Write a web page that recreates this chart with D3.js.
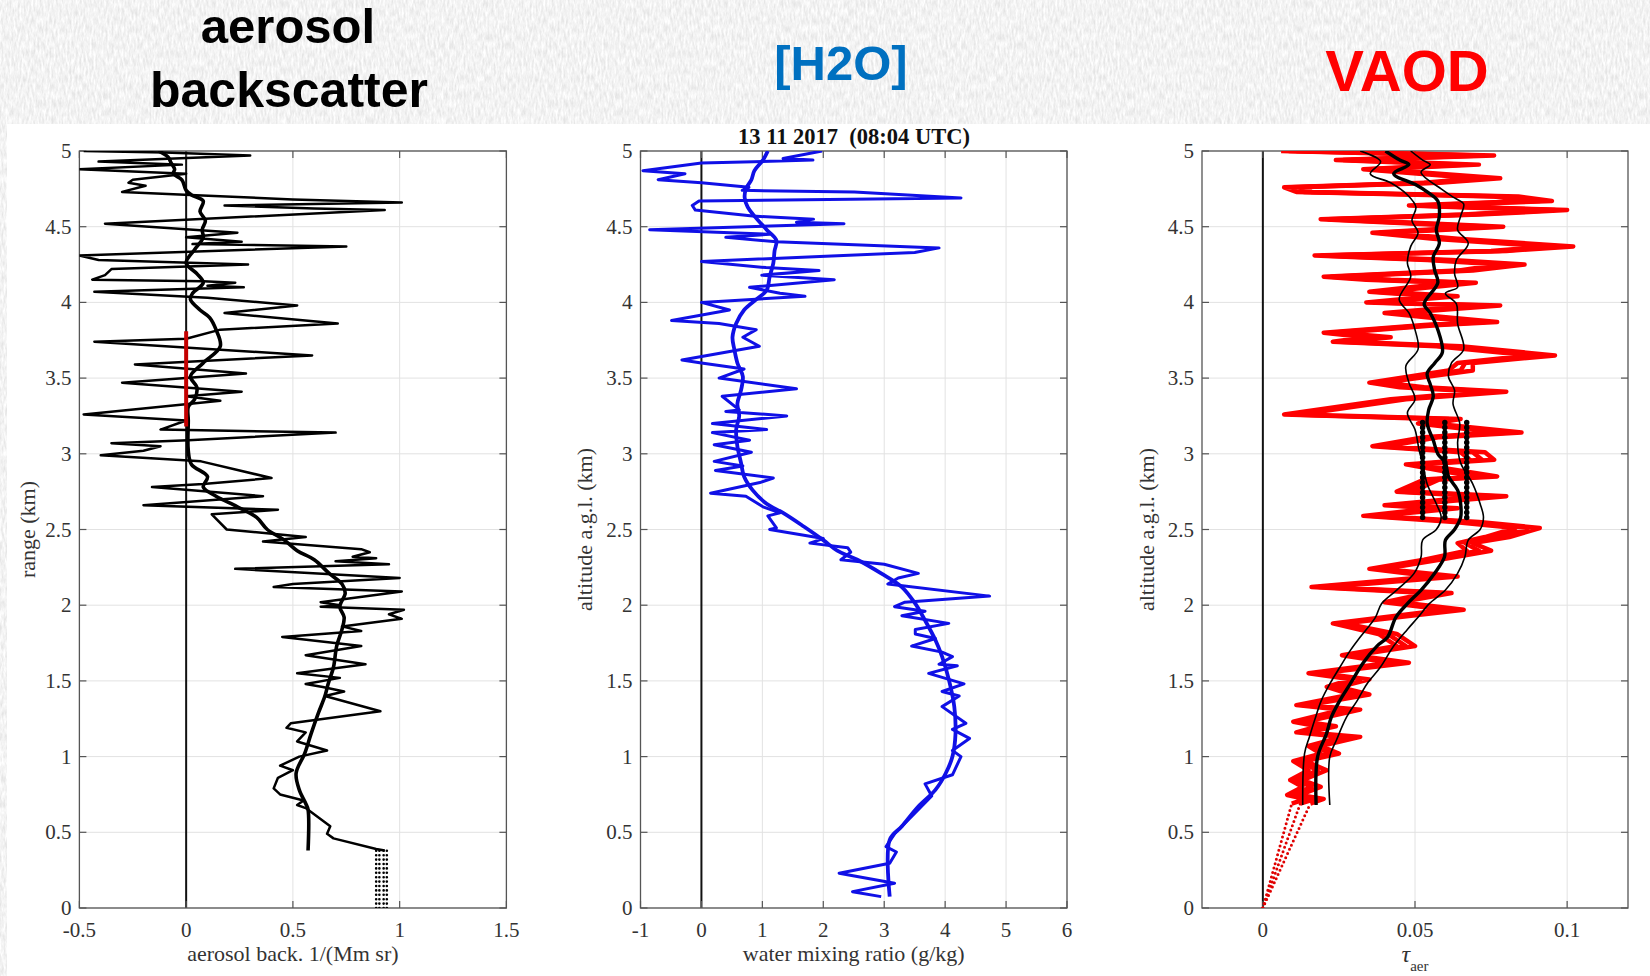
<!DOCTYPE html>
<html><head><meta charset="utf-8">
<script src="https://cdn.jsdelivr.net/npm/d3@7"></script>
<style>body{margin:0;background:#fff;overflow:hidden}svg{display:block}</style>
</head><body>
<script>
// ---------------- DATA ----------------
const altTicks = [0,0.5,1,1.5,2,2.5,3,3.5,4,4.5,5];
const backTicks = [-0.5,0,0.5,1,1.5];
const h2oTicks = [-1,0,1,2,3,4,5,6];
const vaodTicks = [0,0.05,0.1];

// panel 1: aerosol backscatter [altitude km, value 1/(Mm sr)]
const backRaw = [[5.00,-0.48],[4.99,-0.10],[4.97,0.30],[4.93,-0.41],[4.91,-0.02],[4.88,-0.50],[4.85,0.00],[4.81,-0.25],[4.79,-0.27],[4.77,-0.19],[4.73,-0.30],[4.71,0.02],[4.68,0.50],[4.66,1.01],[4.64,0.18],[4.62,0.60],[4.61,0.93],[4.52,-0.38],[4.46,0.24],[4.43,0.00],[4.40,0.26],[4.385,0.03],[4.37,0.75],[4.31,-0.50],[4.28,-0.41],[4.25,0.29],[4.22,-0.35],[4.18,-0.38],[4.15,-0.44],[4.14,0.08],[4.13,0.23],[4.11,0.10],[4.10,0.27],[4.07,-0.43],[4.03,0.10],[3.98,0.52],[3.93,0.18],[3.86,0.71],[3.82,0.16],[3.76,0.00],[3.74,-0.43],[3.65,0.59],[3.59,-0.24],[3.53,0.28],[3.47,-0.30],[3.41,0.26],[3.38,0.00],[3.35,0.16],[3.26,-0.48],[3.22,0.00],[3.16,-0.12],[3.14,0.70],[3.09,0.01],[3.07,-0.35],[3.05,-0.12],[3.02,-0.20],[2.99,-0.40],[2.95,0.07],[2.84,0.40],[2.80,0.08],[2.78,-0.16],[2.72,0.36],[2.66,-0.20],[2.63,0.43],[2.60,0.12],[2.50,0.19],[2.45,0.56],[2.42,0.36],[2.37,0.82],[2.35,0.86],[2.32,0.78],[2.31,0.89],[2.29,0.70],[2.27,0.95],[2.24,0.23],[2.18,1.00],[2.14,0.50],[2.12,0.41],[2.09,1.01],[2.02,0.63],[2.00,0.72],[1.99,0.63],[1.97,1.02],[1.94,0.95],[1.91,1.01],[1.86,0.73],[1.83,0.82],[1.79,0.45],[1.73,0.82],[1.67,0.56],[1.61,0.84],[1.55,0.52],[1.52,0.72],[1.48,0.56],[1.46,0.64],[1.43,0.74],[1.40,0.65],[1.30,0.91],[1.22,0.49],[1.19,0.47],[1.16,0.56],[1.10,0.52],[1.04,0.66],[1.00,0.53],[0.94,0.44],[0.91,0.50],[0.86,0.43],[0.79,0.41],[0.75,0.44],[0.71,0.55],[0.68,0.52],[0.66,0.56],[0.54,0.675],[0.49,0.66],[0.46,0.69],[0.39,0.89],[0.38,0.93]];
const backSmooth = [[5.00,-0.13],[4.96,-0.085],[4.92,-0.07],[4.88,-0.054],[4.85,-0.06],[4.81,-0.02],[4.74,0.00],[4.71,0.025],[4.67,0.08],[4.60,0.065],[4.54,0.09],[4.48,0.075],[4.43,0.08],[4.35,0.04],[4.26,0.00],[4.19,0.05],[4.13,0.08],[4.06,0.03],[4.02,0.02],[3.95,0.065],[3.90,0.11],[3.82,0.14],[3.71,0.16],[3.60,0.08],[3.51,0.02],[3.44,0.05],[3.36,0.04],[3.31,0.01],[3.22,0.01],[3.02,0.01],[2.93,0.025],[2.85,0.10],[2.78,0.08],[2.72,0.14],[2.65,0.24],[2.58,0.33],[2.50,0.38],[2.43,0.46],[2.36,0.52],[2.30,0.60],[2.21,0.67],[2.14,0.73],[2.08,0.745],[1.99,0.72],[1.92,0.74],[1.84,0.73],[1.73,0.705],[1.59,0.69],[1.48,0.665],[1.40,0.65],[1.29,0.62],[1.15,0.585],[1.02,0.555],[0.89,0.515],[0.78,0.53],[0.69,0.56],[0.65,0.571],[0.38,0.571]];
const backRedSeg = [[3.81,0.0],[3.18,0.0]];
const backDotX = [0.89,0.905,0.925,0.94];
const backDotAlt = [0,0.38];

// panel 2: water vapour mixing ratio [altitude km, g/kg]
const h2oRaw = [[5.00,1.98],[4.95,1.34],[4.94,1.83],[4.92,0.00],[4.87,-0.96],[4.85,-0.27],[4.81,-0.71],[4.79,0.00],[4.76,0.78],[4.74,0.67],[4.73,2.51],[4.69,4.26],[4.67,-0.04],[4.64,-0.15],[4.61,-0.10],[4.57,0.84],[4.55,1.84],[4.53,1.56],[4.52,2.34],[4.48,-0.85],[4.45,1.12],[4.43,0.40],[4.40,1.23],[4.36,3.90],[4.33,3.50],[4.27,0.00],[4.23,1.06],[4.21,1.93],[4.18,0.99],[4.15,2.18],[4.10,0.79],[4.06,1.29],[4.04,1.70],[4.00,0.00],[3.95,0.46],[3.88,-0.49],[3.86,0.29],[3.82,0.90],[3.77,0.68],[3.71,0.95],[3.62,-0.32],[3.60,0.00],[3.56,0.70],[3.50,0.29],[3.43,1.56],[3.38,0.34],[3.29,0.62],[3.28,0.40],[3.25,1.40],[3.20,0.18],[3.16,1.07],[3.14,0.18],[3.09,0.79],[3.06,0.21],[3.01,0.82],[2.95,0.21],[2.92,0.68],[2.89,0.23],[2.84,1.18],[2.81,0.96],[2.74,0.15],[2.72,0.73],[2.65,1.01],[2.61,1.29],[2.59,1.09],[2.51,1.23],[2.50,1.12],[2.44,2.00],[2.41,1.78],[2.38,2.40],[2.35,2.45],[2.30,2.29],[2.27,3.00],[2.21,3.56],[2.18,3.23],[2.14,3.06],[2.06,4.73],[2.02,3.34],[1.99,3.17],[1.96,3.67],[1.93,3.29],[1.88,4.06],[1.84,3.51],[1.81,3.51],[1.78,3.84],[1.73,3.45],[1.69,3.95],[1.66,4.12],[1.61,3.90],[1.60,4.20],[1.55,3.73],[1.48,4.31],[1.43,3.95],[1.40,4.23],[1.33,3.95],[1.22,4.34],[1.18,4.12],[1.12,4.40],[1.04,4.12],[1.00,4.26],[0.88,4.12],[0.82,3.67],[0.74,3.78],[0.63,3.51],[0.49,3.17],[0.405,3.03],[0.37,3.20],[0.295,3.09],[0.23,2.26],[0.163,3.17],[0.108,2.48],[0.075,2.95]];
const h2oSmooth = [[5.00,1.09],[4.94,1.01],[4.87,0.87],[4.81,0.82],[4.75,0.73],[4.69,0.71],[4.63,0.76],[4.57,0.87],[4.48,1.07],[4.41,1.23],[4.34,1.20],[4.26,1.18],[4.17,1.12],[4.08,1.07],[4.02,0.90],[3.95,0.70],[3.86,0.57],[3.77,0.51],[3.69,0.54],[3.60,0.59],[3.51,0.68],[3.42,0.65],[3.33,0.59],[3.25,0.62],[3.16,0.57],[3.05,0.59],[2.94,0.65],[2.85,0.70],[2.76,0.84],[2.67,1.07],[2.61,1.34],[2.52,1.68],[2.43,2.00],[2.36,2.23],[2.30,2.56],[2.21,2.95],[2.12,3.29],[2.01,3.51],[1.90,3.67],[1.77,3.84],[1.66,3.95],[1.51,4.06],[1.33,4.15],[1.15,4.17],[1.00,4.12],[0.89,4.01],[0.78,3.84],[0.67,3.56],[0.54,3.29],[0.45,3.09],[0.075,3.09]];

// panel 3: vertical aerosol optical depth
const vaodAlt = [5.00,4.97,4.94,4.91,4.88,4.82,4.79,4.76,4.73,4.70,4.67,4.64,4.61,4.58,4.55,4.50,4.46,4.42,4.37,4.34,4.31,4.28,4.25,4.21,4.17,4.15,4.13,4.07,4.04,4.00,3.98,3.93,3.87,3.85,3.80,3.77,3.74,3.71,3.65,3.60,3.55,3.47,3.44,3.41,3.36,3.26,3.23,3.20,3.14,3.11,3.05,3.01,2.96,2.93,2.85,2.83,2.75,2.72,2.66,2.64,2.59,2.55,2.51,2.45,2.41,2.36,2.30,2.24,2.19,2.12,2.08,2.02,1.97,1.88,1.81,1.73,1.67,1.62,1.55,1.51,1.46,1.41,1.34,1.31,1.23,1.20,1.16,1.13,1.07,1.02,0.97,0.91,0.845,0.80,0.746,0.72,0.69];
const vaodRedLo = [.006,.068,.024,.063,.033,.070,.053,.007,.011,.076,.087,.048,.092,.066,.019,.071,.036,.056,.094,.075,.017,.054,.078,.064,.020,.034,.062,.035,.056,.034,.070,.040,.069,.053,.020,.034,.023,.057,.088,.064,.061,.035,.045,.072,.042,.007,.057,.051,.077,.053,.036,.065,.068,.047,.069,.053,.044,.072,.040,.056,.033,.063,.083,.073,.064,.067,.053,.035,.056,.016,.054,.040,.060,.023,.038,.044,.026,.042,.015,.029,.021,.029,.011,.026,.010,.018,.011,.026,.015,.019,.010,.015,.009,.013,.008,.014,.0095];
const vaodRedMid = [.0085,.072,.0265,.067,.0355,.074,.0555,.0095,.0135,.080,.091,.0505,.096,.0685,.0215,.075,.0385,.060,.098,.0775,.0195,.058,.082,.0665,.0225,.038,.066,.0375,.060,.0365,.074,.0425,.073,.0555,.0225,.038,.0255,.061,.092,.0665,.065,.0375,.049,.076,.0445,.0095,.061,.0535,.081,.0555,.0385,.069,.072,.0495,.073,.0555,.0465,.076,.0425,.060,.0355,.067,.087,.077,.0665,.071,.0555,.0375,.060,.0185,.058,.0425,.063,.025,.041,.047,.028,.045,.017,.032,.023,.032,.013,.029,.012,.021,.013,.029,.017,.022,.012,.018,.011,.016,.010,.017,.0123];
const vaodRedHi = [.011,.076,.029,.071,.038,.078,.058,.012,.016,.084,.095,.053,.100,.071,.024,.079,.041,.064,.102,.080,.022,.062,.086,.069,.025,.042,.070,.040,.064,.039,.078,.045,.077,.058,.025,.042,.028,.065,.096,.069,.069,.040,.053,.080,.047,.012,.065,.056,.085,.058,.041,.073,.076,.052,.077,.058,.049,.080,.045,.064,.038,.071,.091,.081,.069,.075,.058,.040,.064,.021,.062,.045,.066,.027,.044,.050,.030,.048,.019,.035,.025,.035,.015,.032,.014,.024,.015,.032,.019,.025,.014,.021,.013,.019,.012,.020,.0156];
const vaodMean = [[5.00,.0403],[4.94,.045],[4.91,.048],[4.85,.043],[4.78,.050],[4.73,.054],[4.67,.0575],[4.57,.058],[4.48,.057],[4.39,.058],[4.30,.056],[4.21,.0565],[4.13,.0575],[3.99,.053],[3.93,.055],[3.82,.0575],[3.67,.059],[3.60,.0565],[3.53,.054],[3.46,.055],[3.38,.056],[3.29,.0545],[3.20,.054],[3.09,.056],[3.00,.0575],[2.94,.060],[2.85,.061],[2.76,.064],[2.67,.065],[2.58,.065],[2.50,.063],[2.43,.060],[2.32,.0597],[2.21,.0564],[2.10,.052],[2.01,.0475],[1.92,.0437],[1.79,.041],[1.73,.0375],[1.62,.033],[1.48,.0287],[1.37,.0253],[1.26,.0225],[1.15,.0209],[1.00,.018],[0.68,.0175]];
const vaodMinus = [[5.00,.032],[4.93,.0387],[4.85,.0353],[4.79,.042],[4.71,.0475],[4.63,.0503],[4.54,.049],[4.46,.051],[4.37,.0486],[4.26,.0475],[4.17,.0486],[4.02,.0448],[3.93,.048],[3.82,.050],[3.69,.051],[3.58,.047],[3.47,.048],[3.36,.050],[3.27,.0475],[3.16,.050],[3.02,.0514],[2.94,.0525],[2.80,.054],[2.67,.057],[2.58,.0586],[2.50,.057],[2.43,.0525],[2.32,.052],[2.21,.0497],[2.10,.044],[2.01,.039],[1.92,.037],[1.79,.032],[1.70,.0287],[1.59,.0253],[1.48,.022],[1.37,.0192],[1.24,.017],[1.13,.0153],[1.02,.0137],[0.68,.0131]];
const vaodPlus = [[5.00,.0486],[4.94,.0525],[4.91,.055],[4.86,.052],[4.75,.0586],[4.69,.063],[4.65,.066],[4.57,.065],[4.48,.064],[4.39,.0675],[4.28,.0636],[4.19,.063],[4.10,.064],[4.06,.060],[3.99,.0636],[3.86,.064],[3.69,.066],[3.60,.062],[3.51,.061],[3.42,.063],[3.33,.0625],[3.20,.0647],[3.07,.064],[2.94,.065],[2.80,.069],[2.67,.0714],[2.58,.0725],[2.50,.0714],[2.43,.0675],[2.32,.0664],[2.21,.064],[2.10,.060],[2.01,.0547],[1.92,.051],[1.84,.0475],[1.73,.043],[1.59,.0386],[1.48,.0342],[1.37,.031],[1.26,.0275],[1.11,.0242],[1.00,.022],[0.68,.022]];
const vaodDotTop = [0.0095,0.0123,0.0156];
const vaodDotAlt = [0,0.69];
const vaodBarX = [0.0525,0.0598,0.067];
const vaodBarAlt = [2.58,3.21];

// ---------------- DRAWING ----------------
const W=1650,H=976;
const svg=d3.select("body").append("svg").attr("width",W).attr("height",H);
const defs=svg.append("defs");
const flt=defs.append("filter").attr("id","paper").attr("x",0).attr("y",0).attr("width","100%").attr("height","100%");
flt.append("feTurbulence").attr("type","fractalNoise").attr("baseFrequency","0.5 0.12").attr("numOctaves",3).attr("seed",7).attr("result","n");
flt.append("feColorMatrix").attr("in","n").attr("type","matrix").attr("values","0 0 0 0 1  0 0 0 0 1  0 0 0 0 1  1.7 0 0 0 -0.3");
svg.append("rect").attr("width",W).attr("height",H).attr("fill","#e4e4e4");
svg.append("rect").attr("width",W).attr("height",H).attr("fill","#fff").attr("filter","url(#paper)");
svg.append("rect").attr("x",7).attr("y",124).attr("width",W-7).attr("height",H-124).attr("fill","#fff");

// header titles
const hdr = (t,x,y,size,col)=>svg.append("text").attr("x",x).attr("y",y).attr("text-anchor","middle")
  .attr("font-family","'Liberation Sans',Arial,sans-serif").attr("font-weight","bold").attr("font-size",size).attr("fill",col).text(t);
hdr("aerosol",288,43,49,"#000");
hdr("backscatter",289,107,50,"#000");
hdr("[H2O]",841,80,49,"#0070c0");
hdr("VAOD",1407,91,58,"#ff0000");

const Y0=151, Y1=908;
const serif="'Liberation Serif','Times New Roman',serif";
const y = d3.scaleLinear().domain([0,5]).range([Y1,Y0]);

function makePanel(id,x0,x1,domain,ticks,xLabel,yLabel,yLabX){
  const x=d3.scaleLinear().domain(domain).range([x0,x1]);
  const g=svg.append("g");
  defs.append("clipPath").attr("id","clip"+id).append("rect").attr("x",x0).attr("y",Y0).attr("width",x1-x0).attr("height",Y1-Y0);
  g.selectAll(".gx").data(ticks).enter().append("line").attr("x1",d=>x(d)).attr("x2",d=>x(d)).attr("y1",Y0).attr("y2",Y1).attr("stroke","#e2e2e2").attr("stroke-width",1);
  g.selectAll(".gy").data(altTicks).enter().append("line").attr("x1",x0).attr("x2",x1).attr("y1",d=>y(d)).attr("y2",d=>y(d)).attr("stroke","#e2e2e2").attr("stroke-width",1);
  g.append("line").attr("x1",x(0)).attr("x2",x(0)).attr("y1",y(0)).attr("y2",y(5)).attr("stroke","#111").attr("stroke-width",2);
  const ax="#555";
  g.append("rect").attr("x",x0).attr("y",Y0).attr("width",x1-x0).attr("height",Y1-Y0).attr("fill","none").attr("stroke",ax).attr("stroke-width",1.3);
  const tl=7;
  ticks.forEach(t=>{
    g.append("line").attr("x1",x(t)).attr("x2",x(t)).attr("y1",Y1).attr("y2",Y1-tl).attr("stroke",ax).attr("stroke-width",1.2);
    g.append("line").attr("x1",x(t)).attr("x2",x(t)).attr("y1",Y0).attr("y2",Y0+tl).attr("stroke",ax).attr("stroke-width",1.2);
  });
  altTicks.forEach(t=>{
    g.append("line").attr("x1",x0).attr("x2",x0+tl).attr("y1",y(t)).attr("y2",y(t)).attr("stroke",ax).attr("stroke-width",1.2);
    g.append("line").attr("x1",x1).attr("x2",x1-tl).attr("y1",y(t)).attr("y2",y(t)).attr("stroke",ax).attr("stroke-width",1.2);
  });
  g.selectAll(".xl").data(ticks).enter().append("text").attr("x",d=>x(d)).attr("y",937).attr("text-anchor","middle")
    .attr("font-family",serif).attr("font-size",21).attr("fill","#333").text(d=>String(d));
  g.selectAll(".yl").data(altTicks).enter().append("text").attr("x",x0-8).attr("y",d=>y(d)+7).attr("text-anchor","end")
    .attr("font-family",serif).attr("font-size",21).attr("fill","#333").text(d=>String(d));
  if(xLabel) g.append("text").attr("x",(x0+x1)/2).attr("y",961).attr("text-anchor","middle").attr("font-family",serif).attr("font-size",22).attr("fill","#333").text(xLabel);
  g.append("text").attr("transform",`translate(${yLabX},${(Y0+Y1)/2}) rotate(-90)`).attr("text-anchor","middle")
    .attr("font-family",serif).attr("font-size",22).attr("fill","#333").text(yLabel);
  const data=svg.append("g").attr("clip-path",`url(#clip${id})`);
  return {x,g,data};
}

const line=(x)=>d3.line().x(d=>x(d[1])).y(d=>y(d[0]));

// Panel 1
const p1=makePanel(1,79.4,506.4,[-0.5,1.5],backTicks,"aerosol back. 1/(Mm sr)","range (km)",35);
p1.data.append("path").datum(backRaw).attr("d",line(p1.x)).attr("fill","none").attr("stroke","#000").attr("stroke-width",2.5).attr("stroke-linejoin","round");
p1.data.append("path").datum(backSmooth).attr("d",line(p1.x).curve(d3.curveCatmullRom)).attr("fill","none").attr("stroke","#000").attr("stroke-width",3.6).attr("stroke-linejoin","round");
p1.data.append("path").datum(backRedSeg).attr("d",line(p1.x)).attr("fill","none").attr("stroke","#c40000").attr("stroke-width",4);
backDotX.forEach(v=>{
  p1.data.append("path").datum(backDotAlt.map(a=>[a,v])).attr("d",line(p1.x)).attr("fill","none").attr("stroke","#000").attr("stroke-width",2.6).attr("stroke-linecap","round").attr("stroke-dasharray","0,4.4");
});

// Panel 2
const p2=makePanel(2,640.5,1067,[-1,6],h2oTicks,"water mixing ratio (g/kg)","altitude a.g.l. (km)",592);
svg.append("text").attr("x",854).attr("y",144).attr("text-anchor","middle").attr("font-family",serif).attr("font-weight","bold").attr("font-size",22.5).attr("fill","#111").style("white-space","pre").text("13 11 2017  (08:04 UTC)");
p2.data.append("path").datum(h2oRaw).attr("d",line(p2.x)).attr("fill","none").attr("stroke","#1010e6").attr("stroke-width",3).attr("stroke-linejoin","round");
p2.data.append("path").datum(h2oSmooth).attr("d",line(p2.x).curve(d3.curveCatmullRom)).attr("fill","none").attr("stroke","#1010e6").attr("stroke-width",3.8).attr("stroke-linejoin","round");

// Panel 3
const p3=makePanel(3,1202,1628,[-0.02,0.12],vaodTicks,null,"altitude a.g.l. (km)",1154);
const tau=svg.append("text").attr("x",1415).attr("y",962).attr("text-anchor","middle").attr("font-family",serif).attr("fill","#333");
tau.append("tspan").attr("font-size",24).attr("font-style","italic").text("τ");
tau.append("tspan").attr("font-size",15).attr("dy",9).text("aer");
vaodDotTop.forEach(v=>{
  p3.data.append("path").datum(vaodDotAlt.map((a,i)=>[a,i===0?0:v])).attr("d",line(p3.x)).attr("fill","none").attr("stroke","#e00000").attr("stroke-width",3).attr("stroke-linecap","round").attr("stroke-dasharray","0,4.6");
});
[vaodRedLo,vaodRedMid,vaodRedHi].forEach(arr=>{
  p3.data.append("path").datum(vaodAlt.map((a,i)=>[a,arr[i]])).attr("d",line(p3.x)).attr("fill","none").attr("stroke","#ff0000").attr("stroke-width",4.5).attr("stroke-linejoin","round");
});
[[vaodMinus,1.6],[vaodPlus,1.6],[vaodMean,3.4]].forEach(([arr,w])=>{
  p3.data.append("path").datum(arr).attr("d",line(p3.x).curve(d3.curveCatmullRom)).attr("fill","none").attr("stroke","#000").attr("stroke-width",w).attr("stroke-linejoin","round");
});
vaodBarX.forEach(v=>{
  const pts=vaodBarAlt.map(a=>[a,v]);
  p3.data.append("path").datum(pts).attr("d",line(p3.x)).attr("fill","none").attr("stroke","#000").attr("stroke-width",3.5);
  p3.data.append("path").datum(pts).attr("d",line(p3.x)).attr("fill","none").attr("stroke","#000").attr("stroke-width",5.5).attr("stroke-linecap","round").attr("stroke-dasharray","0,5");
});
</script>
</body></html>
